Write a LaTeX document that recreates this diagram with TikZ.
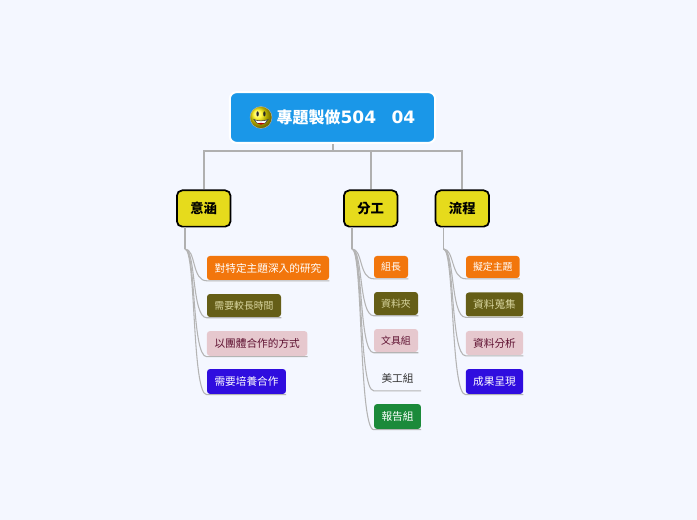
\documentclass[tikz,border=0pt]{standalone}
\usepackage{fontspec}
\setmainfont{Noto Sans CJK TC}
\newfontfamily\digitfont{DejaVu Sans Bold}
\definecolor{bgc}{HTML}{F4F7FF}
\definecolor{rootc}{HTML}{1A97E8}
\definecolor{topicc}{HTML}{E6DB1C}
\definecolor{orangec}{HTML}{F2760C}
\definecolor{olivec}{HTML}{655E17}
\definecolor{olivet}{HTML}{D9D6A0}
\definecolor{pinkc}{HTML}{E6C8CE}
\definecolor{pinkt}{HTML}{5E1030}
\definecolor{bluec}{HTML}{2F0DDF}
\definecolor{greenc}{HTML}{1B8A3A}
\definecolor{linec}{HTML}{B0B0B0}
\definecolor{twigc}{HTML}{B4B4B4}
\tikzset{
  x=0.75pt,y=-0.75pt,
  rootbox/.style={draw=white,line width=1.5pt,fill=rootc,rounded corners=5pt,minimum width=154pt,minimum height=38pt,inner sep=0pt},
  topicbox/.style={draw=black,line width=1.3pt,fill=topicc,rounded corners=4pt,minimum width=40.2pt,minimum height=27.2pt,inner sep=0pt,font=\fontsize{10pt}{11pt}\selectfont\bfseries},
  leafbox/.style={rounded corners=2.2pt,inner sep=0pt,font=\fontsize{8pt}{10pt}\selectfont},
  small/.style={font=\fontsize{7.4pt}{10pt}\selectfont},
  orangeleaf/.style={leafbox,fill=orangec,text=white},
  oliveleaf/.style={leafbox,fill=olivec,text=olivet},
  pinkleaf/.style={leafbox,fill=pinkc,text=pinkt},
  blueleaf/.style={leafbox,fill=bluec,text=white},
  greenleaf/.style={leafbox,fill=greenc,text=white},
  plainleaf/.style={leafbox,text=black!80},
  bus/.style={draw=linec,line width=1.5pt},
  trunk/.style={draw=linec,line width=1.2pt},
  twig/.style={draw=twigc,line width=0.8pt},
}
\begin{document}
\begin{tikzpicture}
\useasboundingbox (0,0) rectangle (697,520);
\fill[bgc] (0,0) rectangle (697,520);

\coordinate (ta) at (185,249);
\coordinate (tb) at (352,249);
\coordinate (tc) at (443.5,249);

% nodes
\node[topicbox] (a) at (203.7,208.5) {意涵};
\node[topicbox] (b) at (370.7,208.5) {分工};
\node[topicbox] (c) at (462.3,208.5) {流程};

% root connectors
\coordinate (rootbase) at (332.8,143);
\draw[bus] (rootbase) -- ++(0,8) -| (a.north);
\draw[bus] (rootbase) -- ++(0,8) -| (b.north);
\draw[bus] (rootbase) -- ++(0,8) -| (c.north);

\node[rootbox] (root) at (332.5,117.5) {};
\node[anchor=west,inner sep=0pt,text=white,font=\fontsize{12pt}{14pt}\selectfont\bfseries] (title) at (276.3,117) {專題製做{\fontsize{12.8pt}{14pt}\selectfont\digitfont 504\hspace{11.5pt}04}};

% trunks
\draw[trunk] (ta |- a.south) -- (ta);
\draw[trunk] (tb |- b.south) -- (tb);
\draw[trunk] (tc |- c.south) -- (tc);

% leaves, column 1
\node[orangeleaf,minimum width=91.5pt,minimum height=18pt] (a1) at (268,268) {對特定主題深入的研究};
\node[oliveleaf,small,minimum width=55.5pt,minimum height=17.2pt] (a2) at (244,305.5) {需要較長時間};
\node[pinkleaf,minimum width=75.4pt,minimum height=18.6pt] (a3) at (257.2,343.5) {以團體合作的方式};
\node[blueleaf,minimum width=59.2pt,minimum height=18.6pt] (a4) at (246.5,381.5) {需要培養合作};

% leaves, column 2
\node[orangeleaf,small,minimum width=25.5pt,minimum height=16.5pt] (b1) at (391,267) {組長};
\node[oliveleaf,small,minimum width=33pt,minimum height=17.2pt] (b2) at (396,303.5) {資料夾};
\node[pinkleaf,small,minimum width=33pt,minimum height=17.2pt] (b3) at (396,340.5) {文具組};
\node[plainleaf,minimum width=35.2pt,minimum height=18pt] (b4) at (397.5,378) {美工組};
\node[greenleaf,minimum width=35.2pt,minimum height=18.6pt] (b5) at (397.5,416.5) {報告組};

% leaves, column 3
\node[orangeleaf,small,minimum width=40.2pt,minimum height=16.5pt] (c1) at (492.8,267) {擬定主題};
\node[oliveleaf,minimum width=43pt,minimum height=18pt] (c2) at (494.5,304.5) {資料蒐集};
\node[pinkleaf,minimum width=43pt,minimum height=18pt] (c3) at (494.5,343) {資料分析};
\node[blueleaf,minimum width=43pt,minimum height=18.6pt] (c4) at (494.5,381.5) {成果呈現};

% twigs
\foreach \p/\l in {ta/a1,ta/a2,ta/a3,ta/a4,tb/b1,tb/b2,tb/b3,tb/b4,tb/b5,tc/c1,tc/c2,tc/c3,tc/c4}{
  \draw[twig] (\p) .. controls +(11,0) and +(-15,0) .. ([yshift=-0.4pt]\l.south west) -- ([yshift=-0.4pt]\l.south east);
}

% smiley
\begin{scope}[shift={(261,117.5)}]
  \shade[ball color=yellow!90!orange,draw=black!30,line width=0.3pt] (0,0) circle (11);
  \fill[black!85] (-3.4,-3.6) ellipse (1.2 and 2.6);
  \fill[black!85] (3.4,-3.6) ellipse (1.2 and 2.6);
  \fill[white,draw=black!80,line width=0.4pt] (-7,2) .. controls (-3.5,3.8) and (3.5,3.8) .. (7,2) .. controls (5.5,8.2) and (-5.5,8.2) .. (-7,2) -- cycle;
  \fill[red!75!black] (-3.6,5.8) .. controls (-1.5,7.6) and (1.5,7.6) .. (3.6,5.8) .. controls (1.5,5.2) and (-1.5,5.2) .. (-3.6,5.8) -- cycle;
\end{scope}
\end{tikzpicture}
\end{document}
